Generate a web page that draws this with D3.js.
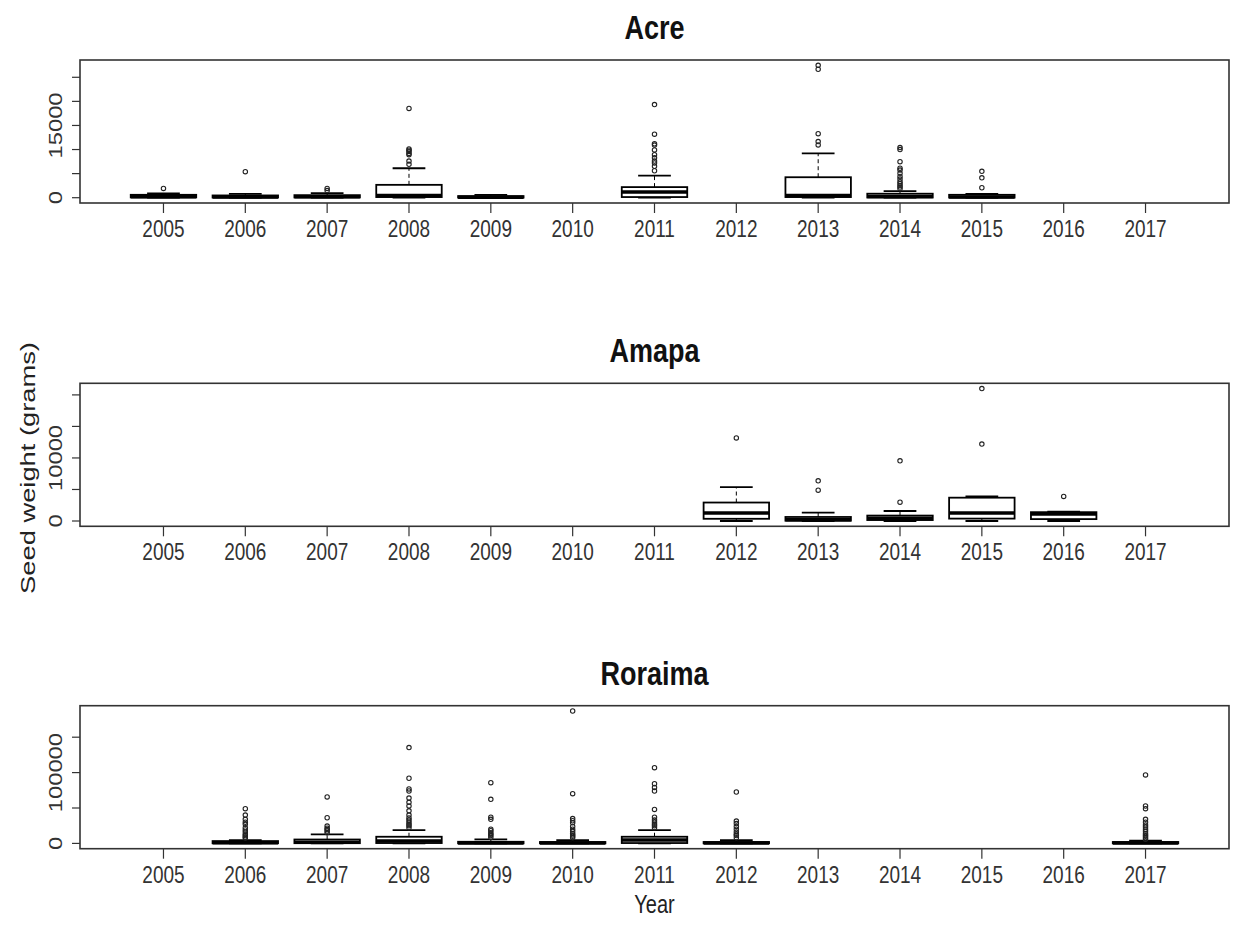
<!DOCTYPE html>
<html>
<head>
<meta charset="utf-8">
<script src="https://cdn.jsdelivr.net/npm/d3@7"></script>
<style>
  html, body { margin: 0; padding: 0; background: #fff; }
  svg { display: block; }
  text { font-family: "Liberation Sans", Arial, Helvetica, sans-serif; }
</style>
</head>
<body>
<svg id="chart" width="1233" height="930"></svg>
<script>
// ---------------- DATA ----------------
const years = [2005, 2006, 2007, 2008, 2009, 2010, 2011, 2012, 2013, 2014, 2015, 2016, 2017];
const panelTitles = ["Acre", "Amapa", "Roraima"];

// box stats per year: [lower whisker, Q1, median, Q3, upper whisker]; null = no data
const acreBoxes = [
  [0, 67, 200, 600, 880],
  [0, 40, 160, 470, 800],
  [0, 53, 200, 530, 930],
  [0, 133, 470, 2670, 6110],
  [0, 27, 107, 333, 600],
  null,
  [0, 133, 1170, 2200, 4590],
  null,
  [0, 133, 470, 4250, 9190],
  [0, 40, 270, 830, 1370],
  [0, 27, 133, 600, 800],
  null,
  null
];
const acreOutliers = [
  [1930],
  [5400],
  [1470, 1930],
  [6930, 7600, 8930, 9200, 9600, 9870, 10130, 18530],
  [],
  [],
  [5600, 6530, 7200, 7600, 8270, 8930, 9930, 10930, 11200, 13200, 19330],
  [],
  [10960, 11650, 13290, 26670, 27490],
  [1870, 2200, 2530, 2930, 3330, 3870, 4400, 5070, 5730, 6130, 7470, 10000, 10400],
  [2070, 4130, 5470],
  [],
  []
];

const amapaBoxes = [
  null, null, null, null, null, null, null,
  [0, 350, 1270, 2930, 5370],
  [0, 50, 200, 640, 1340],
  [0, 150, 450, 860, 1590],
  [0, 380, 1270, 3700, 3900],
  [0, 300, 1100, 1400, 1500],
  null
];
const amapaOutliers = [
  [], [], [], [], [], [], [],
  [13170],
  [4890, 6370],
  [2980, 9550],
  [12200, 21000],
  [3900],
  []
];

const roraimaBoxes = [
  null,
  [0, 200, 800, 3300, 4700],
  [0, 300, 1500, 5500, 12700],
  [0, 500, 3300, 9400, 18800],
  [0, 100, 600, 2300, 5700],
  [0, 100, 500, 2000, 4500],
  [0, 500, 4700, 9400, 18800],
  [0, 100, 500, 2000, 4700],
  null, null, null, null,
  [0, 100, 500, 2000, 4000]
];
const roraimaOutliers = [
  [],
  [7500, 9000, 11000, 13000, 16000, 19000, 22000, 27000, 30000, 34000, 40000, 49000],
  [15000, 17500, 19500, 21500, 24500, 36200, 65600],
  [22000, 25000, 27000, 30000, 33000, 36000, 40000, 46000, 53000, 58000, 64000, 74000, 77000, 92000, 135400],
  [8500, 11000, 13000, 15000, 18000, 20000, 34000, 37000, 62300, 85800],
  [8000, 10000, 12000, 14000, 17000, 20000, 24000, 29000, 32000, 35000, 70200, 187000],
  [22000, 25000, 27000, 30000, 33000, 37000, 48000, 74000, 79000, 84400, 107000],
  [8000, 11000, 13000, 16000, 20000, 24000, 28000, 31600, 72600],
  [], [], [], [],
  [6000, 8000, 10000, 12000, 14000, 17000, 20000, 23000, 26000, 30000, 34000, 49000, 52800, 96700]
];

// y tick values and which of them carry a label
const acreTicks = [0, 5000, 10000, 15000, 20000, 25000];
const acreTickLabels = [0, 15000];
const amapaTicks = [0, 5000, 10000, 15000, 20000];
const amapaTickLabels = [0, 10000];
const roraimaTicks = [0, 50000, 100000, 150000];
const roraimaTickLabels = [0, 100000];

const xAxisTitle = "Year";
const yAxisTitle = "Seed weight (grams)";

// ---------------- LAYOUT ----------------
const svg = d3.select("#chart");
const plotLeft = 80, plotRight = 1229;
const panelTops = [60, 383.3, 705.7];
const panelH = 143;
const stretch = 1.25; // vertical stretch of glyphs in the reference

const panels = [
  { title: panelTitles[0], boxes: acreBoxes, outliers: acreOutliers, ticks: acreTicks, labels: acreTickLabels },
  { title: panelTitles[1], boxes: amapaBoxes, outliers: amapaOutliers, ticks: amapaTicks, labels: amapaTickLabels },
  { title: panelTitles[2], boxes: roraimaBoxes, outliers: roraimaOutliers, ticks: roraimaTicks, labels: roraimaTickLabels }
];

// R-style x scale: positions 1..n with 4% padding around [0.5, n+0.5]
const n = years.length;
const x = d3.scaleLinear().domain([0.5 - 0.04 * n, n + 0.5 + 0.04 * n]).range([plotLeft, plotRight]);
const unit = x(2) - x(1);
const boxW = 0.8 * unit;
const stapleW = 0.5 * boxW;

function stretchedText(g, px, py, str, opts) {
  const s = opts.stretch || stretch;
  return g.append("text")
    .attr("transform", `translate(${px},${py}) ${opts.rotate ? "rotate(-90) scale(" + s + ",1)" : "scale(1," + s + ")"}`)
    .attr("text-anchor", opts.anchor || "middle")
    .attr("font-size", opts.size)
    .attr("font-weight", opts.weight || "normal")
    .attr("fill", opts.fill || "#222")
    .text(str);
}

panels.forEach((p, pi) => {
  const top = panelTops[pi], bottom = top + panelH;
  const allVals = [];
  p.boxes.forEach(b => { if (b) allVals.push(...b); });
  p.outliers.forEach(o => allVals.push(...o));
  const vmin = d3.min(allVals), vmax = d3.max(allVals);
  const span = vmax - vmin;
  const y = d3.scaleLinear().domain([vmin - 0.04 * span, vmax + 0.04 * span]).range([bottom, top]);

  const g = svg.append("g");

  // title
  stretchedText(g, (plotLeft + plotRight) / 2, top - 21, p.title, { size: 27, weight: "bold", fill: "#111" });

  // boxes
  p.boxes.forEach((b, i) => {
    const cx = x(i + 1);
    if (b) {
      const [lo, q1, med, q3, hi] = b;
      g.append("line").attr("x1", cx).attr("x2", cx).attr("y1", y(q3)).attr("y2", y(hi))
        .attr("stroke", "#000").attr("stroke-width", 1).attr("stroke-dasharray", "4,3");
      g.append("line").attr("x1", cx).attr("x2", cx).attr("y1", y(q1)).attr("y2", y(lo))
        .attr("stroke", "#000").attr("stroke-width", 1).attr("stroke-dasharray", "4,3");
      [lo, hi].forEach(v => {
        g.append("line").attr("x1", cx - stapleW / 2).attr("x2", cx + stapleW / 2)
          .attr("y1", y(v)).attr("y2", y(v)).attr("stroke", "#000").attr("stroke-width", 1.8);
      });
      g.append("rect").attr("x", cx - boxW / 2).attr("width", boxW)
        .attr("y", y(q3)).attr("height", Math.max(0.5, y(q1) - y(q3)))
        .attr("fill", "#fff").attr("stroke", "#000").attr("stroke-width", 1.8);
      g.append("line").attr("x1", cx - boxW / 2).attr("x2", cx + boxW / 2)
        .attr("y1", y(med)).attr("y2", y(med)).attr("stroke", "#000").attr("stroke-width", 3.5);
    }
    p.outliers[i].forEach(v => {
      g.append("circle").attr("cx", cx).attr("cy", y(v)).attr("r", 2.2)
        .attr("fill", "none").attr("stroke", "#222").attr("stroke-width", 1.1);
    });
  });

  // frame
  g.append("rect").attr("x", plotLeft).attr("y", top).attr("width", plotRight - plotLeft).attr("height", panelH)
    .attr("fill", "none").attr("stroke", "#333").attr("stroke-width", 1.6);

  // x axis ticks + labels
  years.forEach((yr, i) => {
    const cx = x(i + 1);
    g.append("line").attr("x1", cx).attr("x2", cx).attr("y1", bottom).attr("y2", bottom + 10)
      .attr("stroke", "#333").attr("stroke-width", 1.2);
    stretchedText(g, cx, bottom + 34, String(yr), { size: 19, fill: "#333" });
  });

  // y axis ticks + labels
  p.ticks.forEach(t => {
    g.append("line").attr("x1", plotLeft).attr("x2", plotLeft - 8).attr("y1", y(t)).attr("y2", y(t))
      .attr("stroke", "#333").attr("stroke-width", 1.2);
    if (p.labels.includes(t)) {
      stretchedText(g, 62, y(t), String(t), { size: 19, fill: "#333", rotate: true });
    }
  });
});

// axis titles
stretchedText(svg, (plotLeft + plotRight) / 2, 913, xAxisTitle, { size: 20, fill: "#222" });
stretchedText(svg, 35, 468, yAxisTitle, { size: 21, fill: "#222", rotate: true, stretch: 1.3 });
</script>
</body>
</html>
